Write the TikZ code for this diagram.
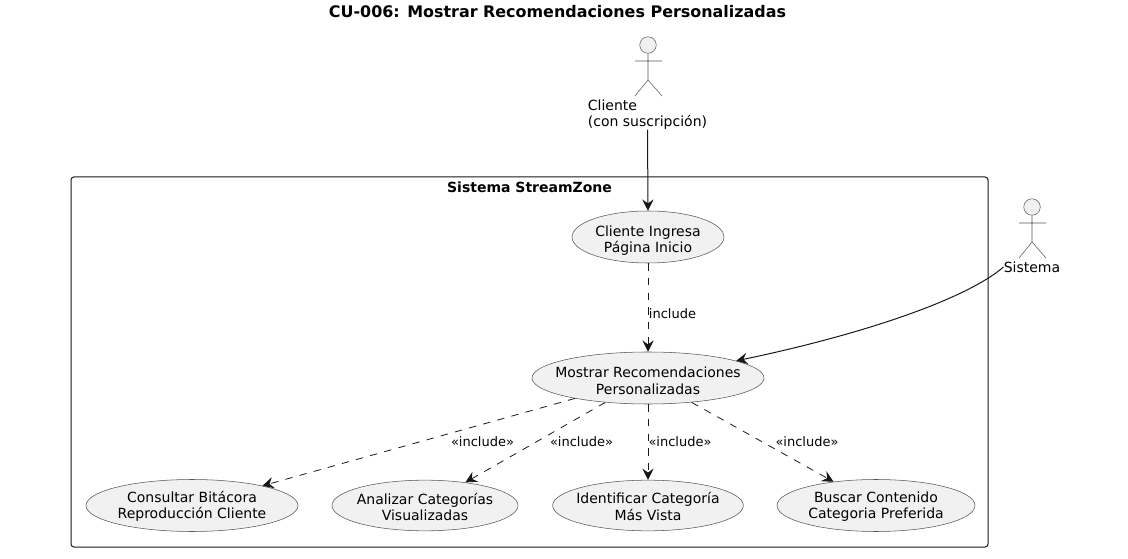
\documentclass[tikz,border=0pt]{standalone}
\usepackage{fontspec}
\setmainfont{DejaVu Sans}
\usetikzlibrary{shapes.geometric,arrows.meta}
\definecolor{ufill}{HTML}{F1F1F1}
\definecolor{uline}{HTML}{181818}
\definecolor{uthin}{HTML}{555555}
\newcommand{\ucdrop}[1]{\rule{0pt}{#1}}
\newcommand{\ucbot}{\rule[-2pt]{0pt}{2pt}}
\tikzset{
  usecase/.style={ellipse,draw=uthin,fill=ufill,line width=0.4pt,inner ysep=-10pt,inner xsep=-25pt,align=center,font=\fontsize{10.5}{12.3}\selectfont},
  actorhead/.style={circle,draw=uthin,fill=ufill,line width=0.4pt,inner sep=0pt,minimum size=12.4pt},
  actorline/.style={draw=uthin,line width=0.4pt},
  actortext/.style={inner sep=0pt,align=left,font=\fontsize{10.5}{12}\selectfont},
  edgetext/.style={inner sep=0pt,font=\fontsize{9.75}{12}\selectfont},
  tip/.style={-{Stealth[length=8.5pt,width=8.5pt,inset=3pt]}},
  solidlink/.style={tip,draw=uline,line width=0.75pt},
  dashlink/.style={tip,draw=uline,line width=0.6pt,dash pattern=on 5.5pt off 5.5pt},
  sysframe/.style={draw=uline,line width=0.75pt,rounded corners=2.2pt,inner sep=0pt},
}
\begin{document}
\begin{tikzpicture}[x=0.75pt,y=-0.75pt]
\useasboundingbox (0,0) rectangle (1128,559);
\node[inner sep=0pt,font=\fontsize{11.95}{14}\selectfont\bfseries] (title) at (557.5,11.5) {CU-006: Mostrar Recomendaciones Personalizadas};
\node[sysframe,minimum width=687.75pt,minimum height=277.5pt] (frame) at (529.5,362) {};
\node[inner sep=0pt,font=\fontsize{10.5}{12}\selectfont\bfseries] (frametitle) at (529.5,187) {Sistema StreamZone};

\node[usecase,minimum width=114pt,minimum height=39pt] (ingresa) at (648,237) {\ucdrop{13.1pt}Cliente Ingresa\\Página Inicio\ucbot};
\node[usecase,minimum width=174pt,minimum height=39pt] (mostrar) at (648,378) {\ucdrop{13.8pt}Mostrar Recomendaciones\\Personalizadas\ucbot};
\node[usecase,minimum width=159pt,minimum height=39pt] (consultar) at (192,505.5) {\ucdrop{9.4pt}Consultar Bitácora\\Reproducción Cliente\ucbot};
\node[usecase,minimum width=139.5pt,minimum height=38pt] (analizar) at (425,505.5) {\ucdrop{12.3pt}Analizar Categorías\\Visualizadas\ucbot};
\node[usecase,minimum width=143pt,minimum height=38pt] (identificar) at (648,505.5) {\ucdrop{11.6pt}Identificar Categoría\\Más Vista\ucbot};
\node[usecase,minimum width=148.5pt,minimum height=39pt] (buscar) at (876,505.5) {\ucdrop{9.4pt}Buscar Contenido\\Categoria Preferida\ucbot};

% actor Cliente
\node[actorhead] (headc) at (648,45) {};
\coordinate (hipc) at (648,80);
\coordinate (armlc) at (635,61);
\coordinate (armrc) at (662,61);
\coordinate (footlc) at (635,96);
\coordinate (footrc) at (662,96);
\draw[actorline] (headc.south) -- (hipc) (armlc) -- (armrc) (footlc) -- (hipc) -- (footrc);
\node[actortext] (cliente) at (647.5,114.5) {Cliente\\(con suscripción)};

% actor Sistema
\node[actorhead] (heads) at (1032,207) {};
\coordinate (hips) at (1032,242);
\coordinate (armls) at (1019,223);
\coordinate (armrs) at (1046,223);
\coordinate (footls) at (1019,258);
\coordinate (footrs) at (1046,258);
\draw[actorline] (heads.south) -- (hips) (armls) -- (armrs) (footls) -- (hips) -- (footrs);
\node[actortext] (sistema) at (1032,267) {Sistema};

% connectors
\draw[solidlink] (cliente.south) -- (ingresa.north);
\draw[solidlink] (sistema.west) .. controls (965,300) and (860,335) .. (mostrar.11);
\draw[dashlink] (ingresa) -- (mostrar);
\draw[dashlink] (mostrar) -- (consultar);
\draw[dashlink] (mostrar) -- (analizar);
\draw[dashlink] (mostrar) -- (identificar);
\draw[dashlink] (mostrar) -- (buscar);

% labels
\node[edgetext] (l0) at (672.5,314) {include};
\node[edgetext] (l1) at (482.5,441.5) {«include»};
\node[edgetext] (l2) at (581.5,441.5) {«include»};
\node[edgetext] (l3) at (680,441.5) {«include»};
\node[edgetext] (l4) at (807,441.5) {«include»};
\end{tikzpicture}
\end{document}
